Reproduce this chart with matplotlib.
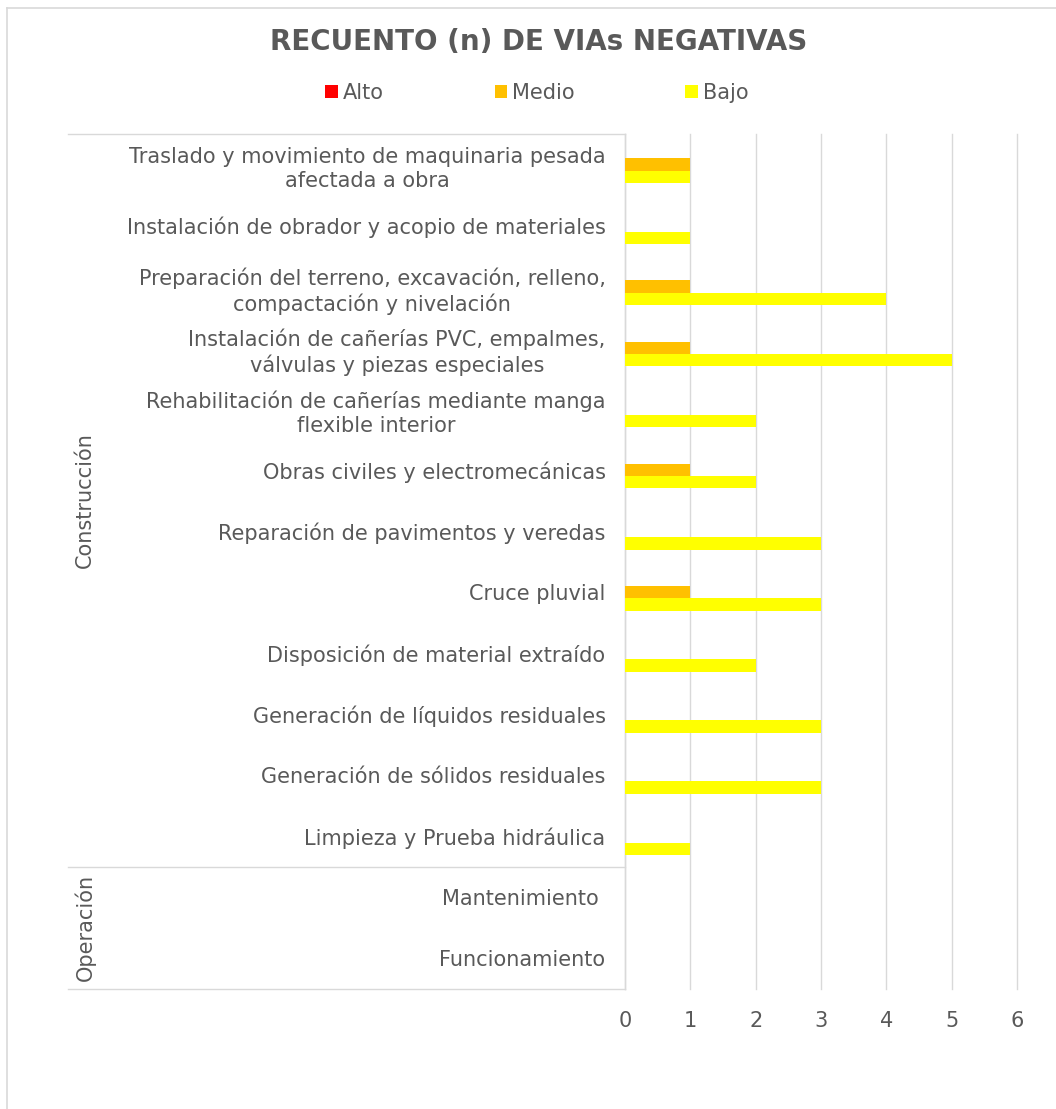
import numpy as np
import matplotlib.pyplot as plt
from matplotlib.lines import Line2D

# Actividades (de arriba hacia abajo) y recuentos por nivel de impacto
actividades = [
    "Traslado y movimiento de maquinaria pesada\nafectada a obra",
    "Instalación de obrador y acopio de materiales",
    "Preparación del terreno, excavación, relleno,\ncompactación y nivelación",
    "Instalación de cañerías PVC, empalmes,\nválvulas y piezas especiales",
    "Rehabilitación de cañerías mediante manga\nflexible interior",
    "Obras civiles y electromecánicas",
    "Reparación de pavimentos y veredas",
    "Cruce pluvial",
    "Disposición de material extraído",
    "Generación de líquidos residuales",
    "Generación de sólidos residuales",
    "Limpieza y Prueba hidráulica",
    "Mantenimiento ",
    "Funcionamiento",
]
etapas = ["Construcción", "Operación"]
n_por_etapa = [12, 2]

alto = [0, 0, 0, 0, 0, 0, 0, 0, 0, 0, 0, 0, 0, 0]
medio = [1, 0, 1, 1, 0, 1, 0, 1, 0, 0, 0, 0, 0, 0]
bajo = [1, 1, 4, 5, 2, 2, 3, 3, 2, 3, 3, 1, 0, 0]

series = ["Alto", "Medio", "Bajo"]
colores = ["#FF0000", "#FFC000", "#FFFF00"]
ticks_x = [0, 1, 2, 3, 4, 5, 6]

GRIS_TXT = "#595959"
GRIS_LIN = "#D9D9D9"
FS = 15

W, H = 1056, 1109
fig = plt.figure(figsize=(W / 100, H / 100), dpi=100)

def fx(px):
    return px / W

def fy(py):
    return 1 - py / H

left, right, top, bottom = 625, 1017, 134, 989
ax = fig.add_axes([fx(left), fy(bottom), fx(right - left), fy(top) - fy(bottom)])

y = np.arange(len(actividades))
h = 0.203
handles = []
for i, (nombre, vals, col) in enumerate(zip(series, [alto, medio, bajo], colores)):
    b = ax.barh(y + (i - 1) * h, vals, height=h, color=col, label=nombre, zorder=3)
    handles.append(b)

ax.set_ylim(len(actividades) - 0.5, -0.5)
ax.set_xlim(0, 6)
ax.set_xticks(ticks_x)
ax.set_xticklabels([str(t) for t in ticks_x])
ax.tick_params(axis="x", length=0, pad=16, labelsize=FS, labelcolor=GRIS_TXT)
ax.set_yticks(y)
ax.set_yticklabels(actividades, multialignment="center", linespacing=1.3)
ax.tick_params(axis="y", length=0, pad=14, labelsize=FS, labelcolor=GRIS_TXT)
ax.grid(axis="x", color=GRIS_LIN, linewidth=1.0, zorder=0)
for g in ax.get_xgridlines():
    g.set_clip_on(False)
for s in ["top", "right", "bottom"]:
    ax.spines[s].set_visible(False)
ax.spines["left"].set_color(GRIS_LIN)
ax.spines["left"].set_linewidth(1.0)

# lineas divisorias de las etapas
fila = (bottom - top) / len(actividades)
cortes = [top] + [top + fila * c for c in np.cumsum(n_por_etapa)]
for yc in cortes:
    fig.add_artist(Line2D([fx(68), fx(left)], [fy(yc), fy(yc)], color=GRIS_LIN, lw=1.0))
for etapa, y0, y1 in zip(etapas, cortes[:-1], cortes[1:]):
    fig.text(fx(85), fy((y0 + y1) / 2), etapa, rotation=90, ha="center", va="center",
             fontsize=FS, color=GRIS_TXT)

# borde del grafico
fig.add_artist(Line2D([fx(7), 1], [fy(8), fy(8)], color=GRIS_LIN, lw=1.2))
fig.add_artist(Line2D([fx(7), fx(7)], [fy(8), 0], color=GRIS_LIN, lw=1.2))

fig.text(0.51, fy(42), "RECUENTO (n) DE VIAs NEGATIVAS", ha="center", va="center",
         fontsize=20, fontweight="bold", color=GRIS_TXT)

fig.legend(handles=handles, loc="center", bbox_to_anchor=(fx(537), fy(93)), ncol=3,
           frameon=False, fontsize=FS, labelcolor=GRIS_TXT, handlelength=0.6,
           handleheight=0.6, handletextpad=0.25, columnspacing=5.3)

fig.savefig("out.png", dpi=100, facecolor="white")
